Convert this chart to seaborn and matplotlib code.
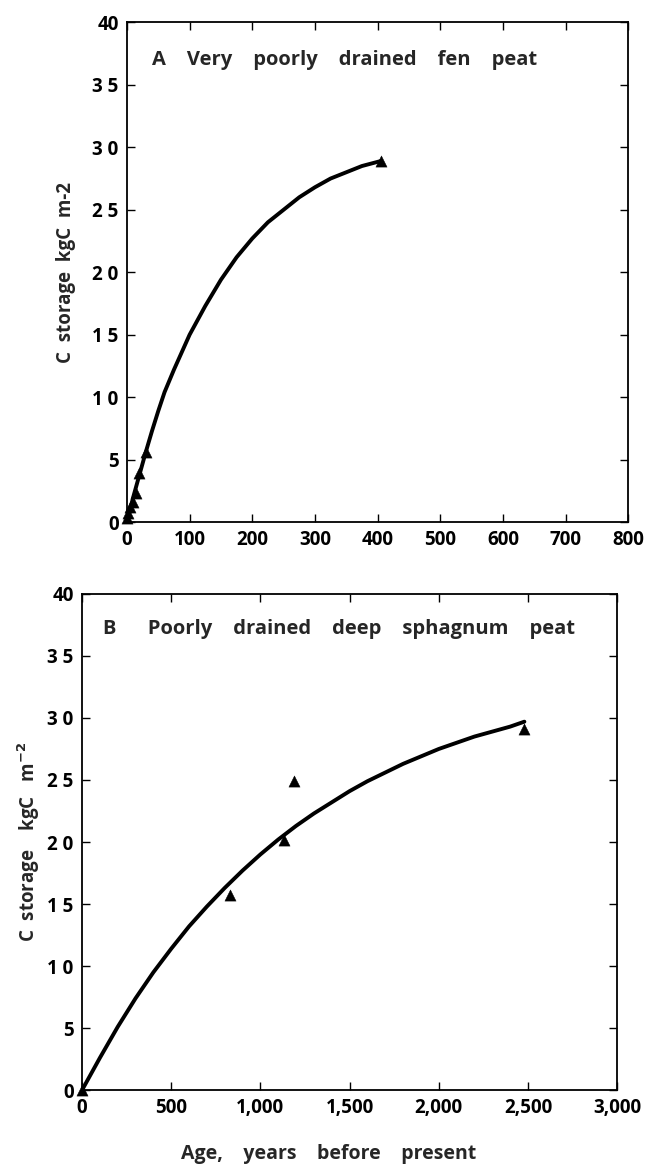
import matplotlib
matplotlib.use("Agg")
import matplotlib.pyplot as plt
import seaborn as sns
import pandas as pd

# Panel A: very poorly drained fen peat
a_obs_age = [0, 2, 5, 10, 14, 20, 30, 405]
a_obs_c = [0.3, 0.7, 1.2, 1.6, 2.3, 3.9, 5.6, 28.9]
a_fit_age = [0, 10, 20, 30, 40, 50, 60, 75, 100, 125, 150, 175, 200, 225, 250,
             275, 300, 325, 350, 375, 405]
a_fit_c = [0.0, 2.0, 3.8, 5.6, 7.3, 8.9, 10.4, 12.2, 15.0, 17.3, 19.4, 21.2, 22.7,
           24.0, 25.0, 26.0, 26.8, 27.5, 28.0, 28.5, 28.9]

# Panel B: poorly drained deep sphagnum peat
b_obs_age = [0, 830, 1130, 1190, 2480]
b_obs_c = [0.0, 15.7, 20.2, 24.9, 29.1]
b_fit_age = [0, 100, 200, 300, 400, 500, 600, 700, 800, 900, 1000, 1100, 1200, 1300,
             1400, 1500, 1600, 1700, 1800, 1900, 2000, 2100, 2200, 2300, 2400, 2480]
b_fit_c = [0.0, 2.6, 5.1, 7.4, 9.5, 11.4, 13.2, 14.8, 16.3, 17.7, 19.0, 20.2, 21.3, 22.3,
           23.2, 24.1, 24.9, 25.6, 26.3, 26.9, 27.5, 28.0, 28.5, 28.9, 29.3, 29.7]

a_xticks = [0, 100, 200, 300, 400, 500, 600, 700, 800]
b_xticks = [0, 500, 1000, 1500, 2000, 2500, 3000]
b_xticklabels = ["0", "500", "1,000", "1,500", "2,000", "2,500", "3,000"]
yticks = [0, 5, 10, 15, 20, 25, 30, 35, 40]
yticklabels = ["0", "5", "1 0", "1 5", "2 0", "2 5", "3 0", "3 5", "40"]

sns.set_style("ticks")
plt.rcParams["font.family"] = ["Open Sans", "DejaVu Sans"]
plt.rcParams["font.weight"] = "bold"

fig = plt.figure(figsize=(6.51, 11.76), dpi=100)
axA = fig.add_axes([0.195, 0.556, 0.770, 0.425])
axB = fig.add_axes([0.126, 0.073, 0.822, 0.422])

dfa_fit = pd.DataFrame({"age": a_fit_age, "c": a_fit_c})
dfa_obs = pd.DataFrame({"age": a_obs_age, "c": a_obs_c})
dfb_fit = pd.DataFrame({"age": b_fit_age, "c": b_fit_c})
dfb_obs = pd.DataFrame({"age": b_obs_age, "c": b_obs_c})

for ax, fit, obs in [(axA, dfa_fit, dfa_obs), (axB, dfb_fit, dfb_obs)]:
    sns.lineplot(data=fit, x="age", y="c", ax=ax, color="black", linewidth=2.8,
                 estimator=None, sort=True, solid_joinstyle="round", solid_capstyle="round")
    sns.scatterplot(data=obs, x="age", y="c", ax=ax, marker="^", color="black", s=65,
                    edgecolor="black", linewidth=0.3, zorder=5, clip_on=False)
    ax.set_ylim(0, 40)
    ax.set_yticks(yticks)
    ax.set_yticklabels(yticklabels)
    for s in ax.spines.values():
        s.set_linewidth(1.3)
        s.set_color("black")
    ax.tick_params(direction="in", length=6, width=1.0, top=True, right=True,
                   labelsize=13.5, pad=6, colors="black")
    ax.set_xlabel("")
    ax.set_ylabel("")

axA.set_xlim(0, 800)
axA.set_xticks(a_xticks)
axA.text(0.05, 0.925, "A    Very    poorly    drained    fen    peat", transform=axA.transAxes,
         fontsize=14.5, fontweight="bold", va="center", ha="left")
axA.set_ylabel("C  storage  kgC  m-2", fontsize=13.5, fontweight="bold", labelpad=12)

axB.set_xlim(0, 3000)
axB.set_xticks(b_xticks)
axB.set_xticklabels(b_xticklabels)
axB.text(0.04, 0.93, "B      Poorly    drained    deep    sphagnum    peat", transform=axB.transAxes,
         fontsize=14.5, fontweight="bold", va="center", ha="left")
axB.set_ylabel(r"C  storage    kgC   m$^{\mathbf{-2}}$", fontsize=13.5, fontweight="bold", labelpad=4)
axB.set_xlabel("Age,    years    before    present", fontsize=14, fontweight="bold")
axB.xaxis.set_label_coords(0.46, -0.108)

fig.savefig("out.png", dpi=100)
